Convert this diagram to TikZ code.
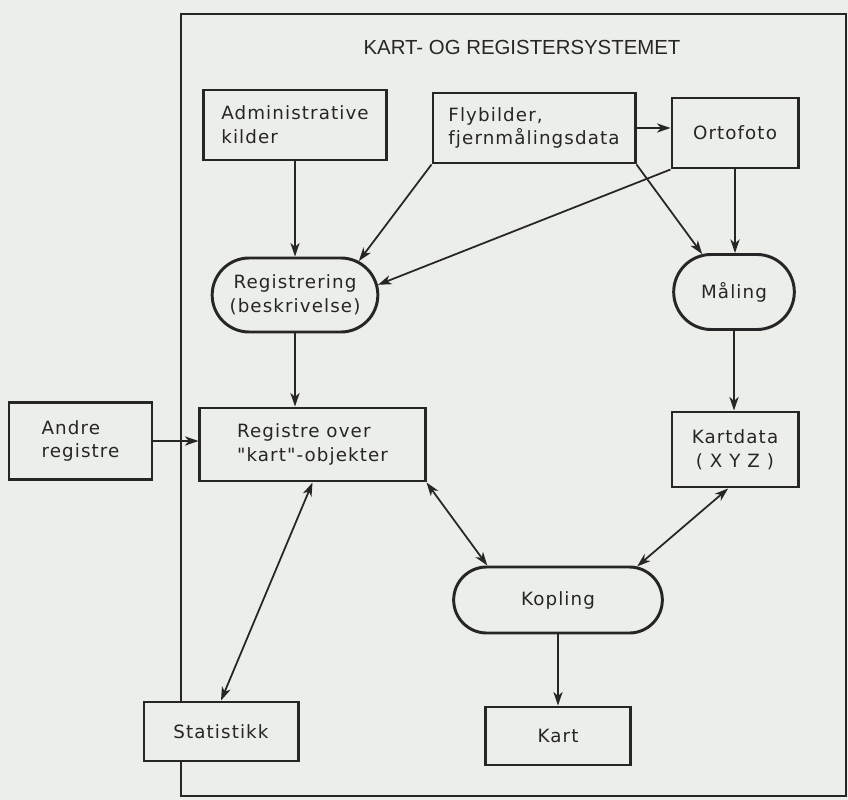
\documentclass[tikz,border=0pt]{standalone}
\usepackage{fontspec}
\setmainfont{DejaVu Sans}
\newfontfamily\titlefont{Liberation Sans}
\newfontfamily\boxfont[LetterSpace=6]{DejaVu Sans}
\usetikzlibrary{arrows.meta,shapes.misc,positioning}
\definecolor{Paper}{RGB}{236,238,233}
\definecolor{Ink}{RGB}{38,38,38}

\begin{document}
\begin{tikzpicture}[x=0.025cm,y=-0.025cm,
  box/.style={rectangle,draw=Ink,fill=Paper,line width=2.1pt,text=Ink,align=left,font=\boxfont\fontsize{13}{17}\selectfont},
  proc/.style={rounded rectangle,draw=Ink,fill=Paper,line width=2.1pt,text=Ink,align=center,font=\boxfont\fontsize{13}{17}\selectfont},
  arr/.style={draw=Ink,line width=1.25pt,-{Stealth[length=3.4mm,width=2.3mm,inset=1mm]}},
  dbl/.style={draw=Ink,line width=1.25pt,{Stealth[length=3.4mm,width=2.3mm,inset=1mm]}-{Stealth[length=3.4mm,width=2.3mm,inset=1mm]}}
]
  \fill[Paper] (0,0) rectangle (848,800);
  \useasboundingbox (0,0) rectangle (848,800);
  % ramme rundt kart- og registersystemet
  \draw[Ink,line width=1.5pt] (181,14) rectangle (846,796);
  \node[text=Ink,font=\titlefont\fontsize{14.5}{17}\selectfont] (title) at (522,47) {KART- OG REGISTERSYSTEMET};

  \node[box,minimum width=4.575cm,minimum height=1.75cm] (admin) at (295,125) {Administrative\\kilder};
  \node[box,minimum width=5.05cm,minimum height=1.75cm] (fly) at (534,128) {Flybilder,\\fjernmålingsdata};
  \node[box,align=center,minimum width=3.15cm,minimum height=1.75cm] (orto) at (735,133) {Ortofoto};
  \node[proc,minimum width=4.375cm,minimum height=1.85cm] (reg) at (295,295) {Registrering\\(beskrivelse)};
  \node[proc,minimum width=3.25cm,minimum height=1.875cm] (maal) at (734,292) {Måling};
  \node[box,minimum width=3.575cm,minimum height=1.925cm] (andre) at (80.5,441) {Andre\\registre};
  \node[box,minimum width=5.625cm,minimum height=1.825cm] (registre) at (312.5,444.5) {Registre over\\"kart"-objekter};
  \node[box,align=center,minimum width=3.15cm,minimum height=1.875cm] (kd) at (735,449.5) {Kartdata\\( X Y Z )};
  \node[proc,minimum width=5.45cm,minimum height=1.65cm] (kop) at (558,600) {Kopling};
  \node[box,align=center,minimum width=3.85cm,minimum height=1.475cm] (stat) at (221,731.5) {Statistikk};
  \node[box,align=center,minimum width=3.625cm,minimum height=1.45cm] (kart) at (558,736) {Kart};

  % piler
  \draw[arr] (admin.south) -- (admin.south |- reg.north);
  \draw[arr] (fly.south west) -- (reg.28);
  \draw[arr] (orto.south west) -- (reg.7);
  \draw[arr] (fly.east) -- (fly.east -| orto.west);
  \draw[arr] (fly.south east) -- (maal.130);
  \draw[arr] (orto.south) -- (orto.south |- maal.north);
  \draw[arr] (reg.south) -- (reg.south |- registre.north);
  \draw[arr] (maal.south) -- (maal.south |- kd.north);
  \draw[arr] (andre.east) -- (andre.east -| registre.west);
  \draw[dbl] (stat.north) -- (registre.south);
  \draw[dbl] (registre.south east) -- (kop.154);
  \draw[dbl] (kd.-100) -- (kop.23);
  \draw[arr] (kop.south) -- (kop.south |- kart.north);
\end{tikzpicture}
\end{document}
